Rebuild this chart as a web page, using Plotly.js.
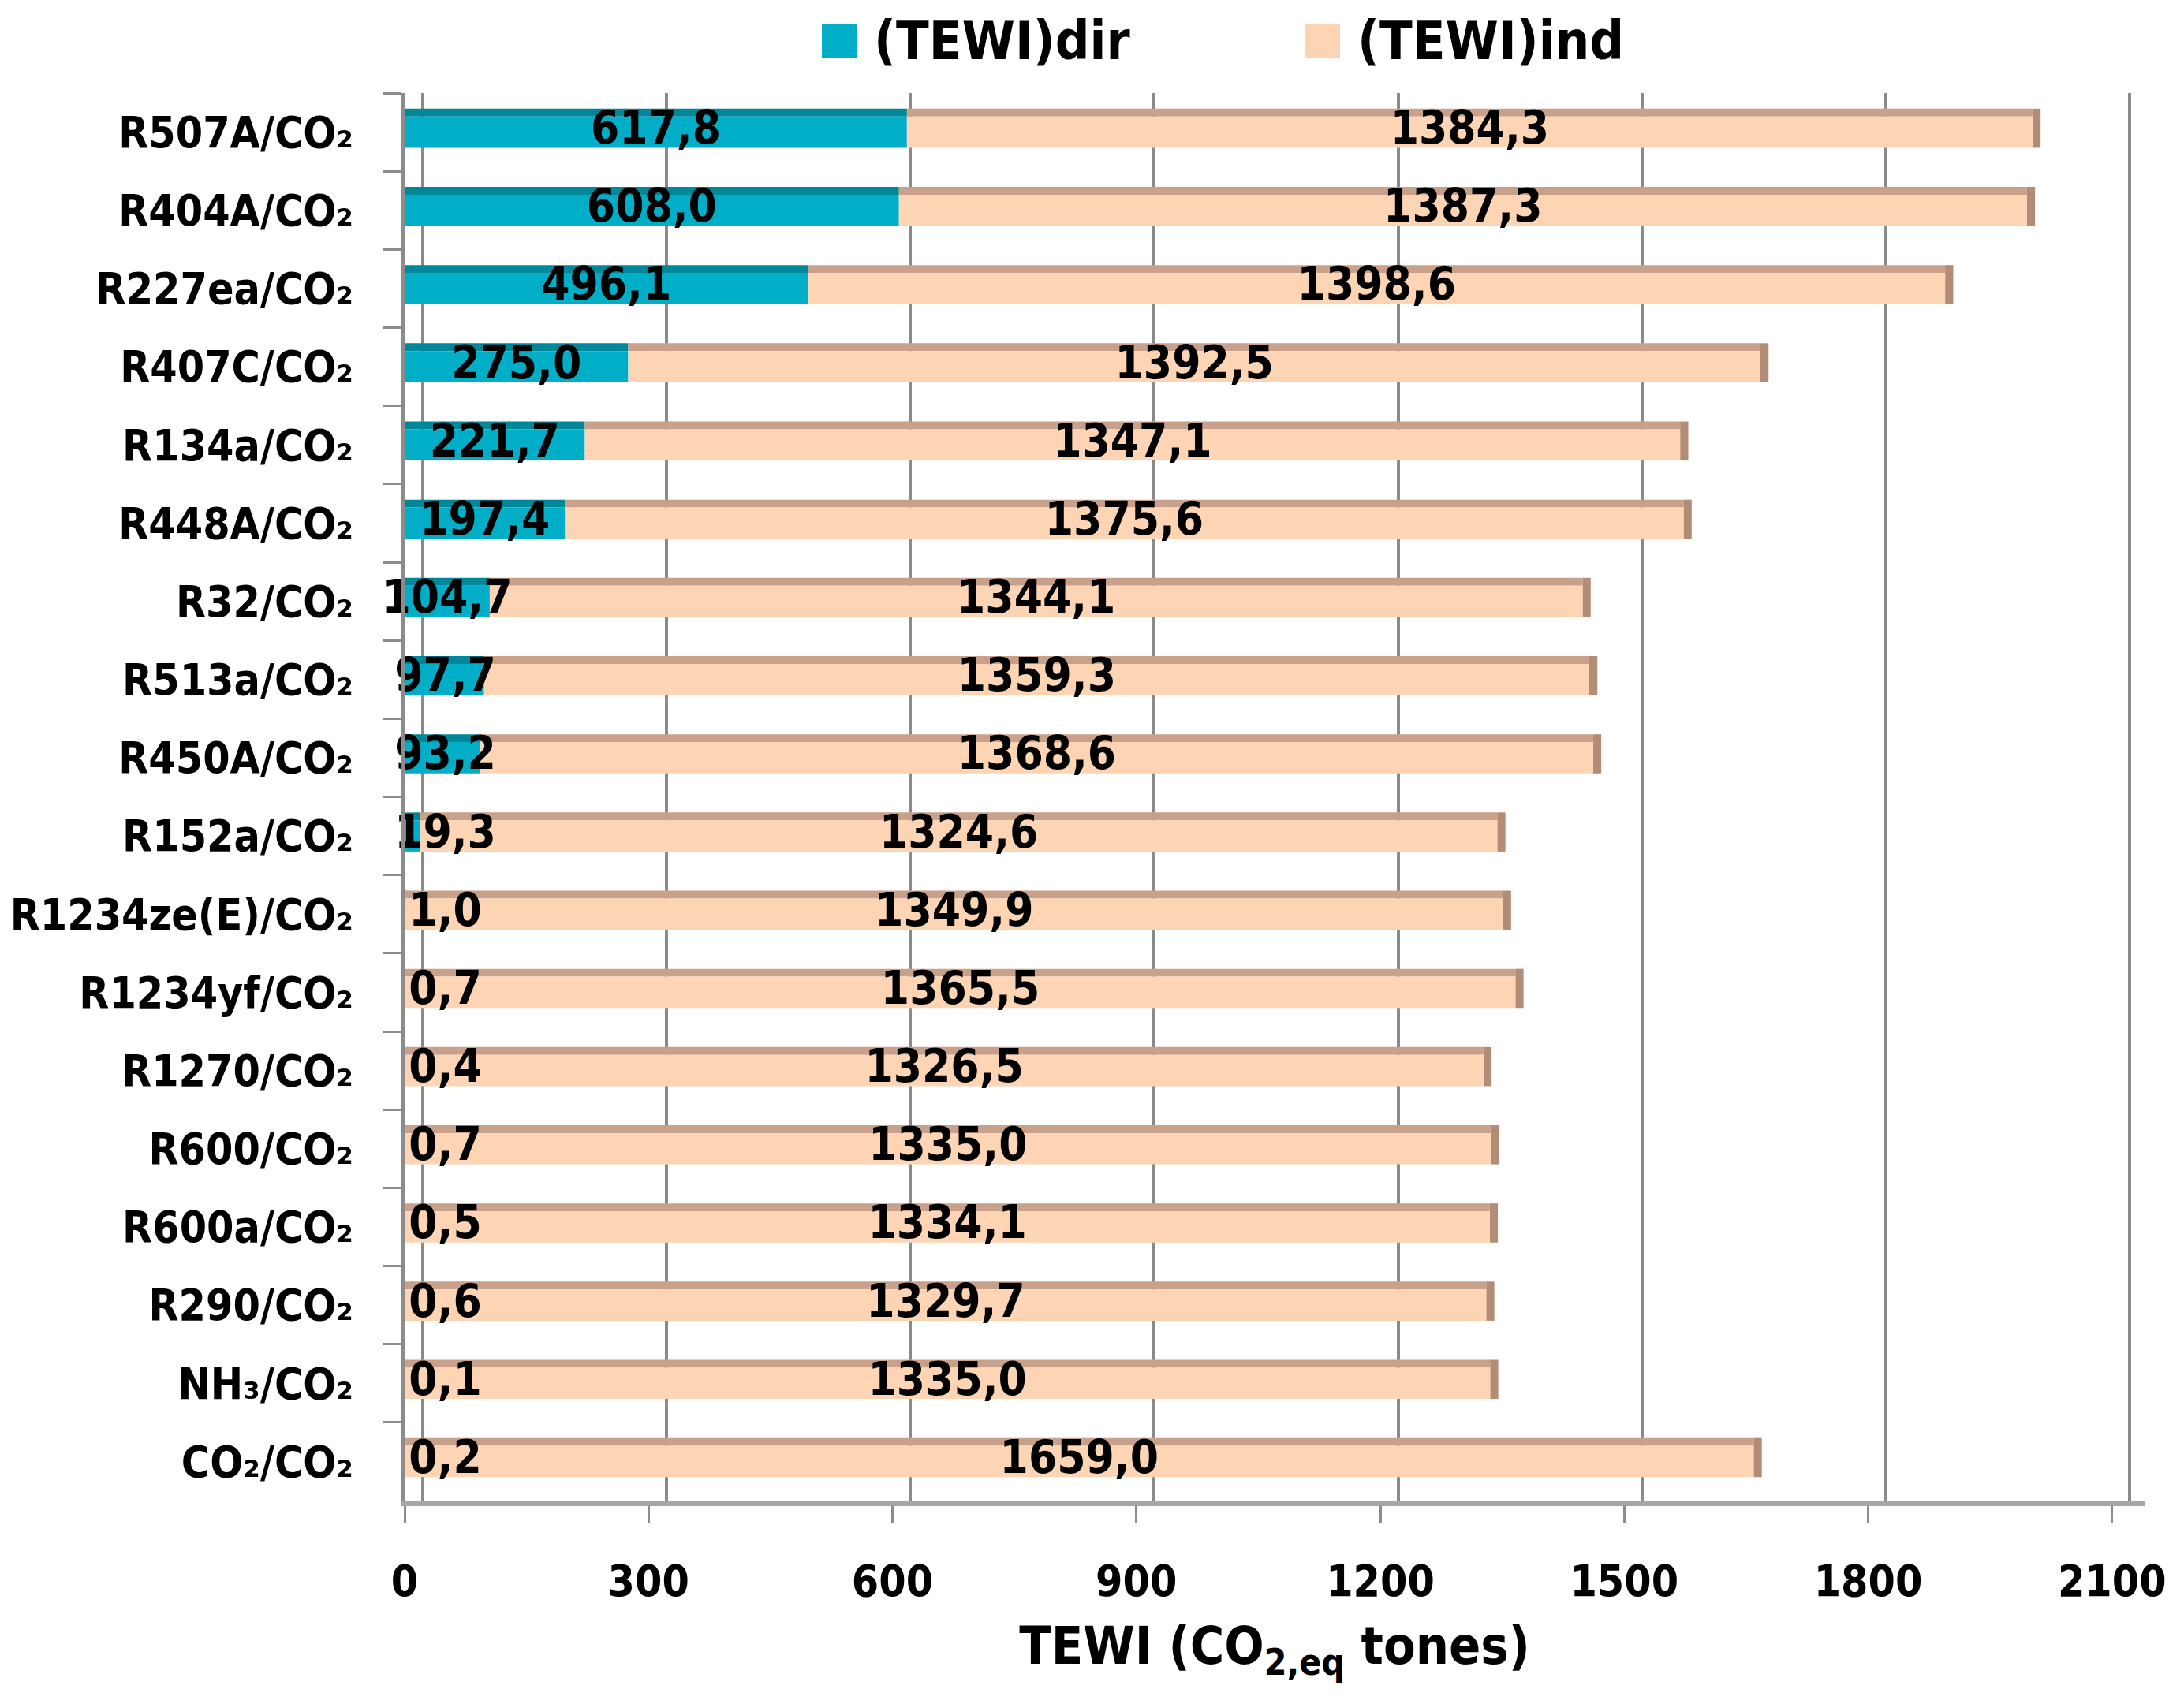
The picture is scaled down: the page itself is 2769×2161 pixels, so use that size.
<!DOCTYPE html>
<html>
<head>
<meta charset="utf-8">
<script src="https://cdn.plot.ly/plotly-3.0.1.min.js"></script>
<style>html,body{margin:0;padding:0;background:#fff;}</style>
</head>
<body>
<div id="chart" style="width:2769px;height:2161px;"></div>
<script>
// ---- data ----
var categories = [
  'R507A/CO₂', 'R404A/CO₂', 'R227ea/CO₂', 'R407C/CO₂',
  'R134a/CO₂', 'R448A/CO₂', 'R32/CO₂', 'R513a/CO₂',
  'R450A/CO₂', 'R152a/CO₂', 'R1234ze(E)/CO₂', 'R1234yf/CO₂',
  'R1270/CO₂', 'R600/CO₂', 'R600a/CO₂', 'R290/CO₂',
  'NH₃/CO₂', 'CO₂/CO₂'
];
var tewiDir = [617.8, 608.0, 496.1, 275.0, 221.7, 197.4, 104.7, 97.7, 93.2, 19.3, 1.0, 0.7, 0.4, 0.7, 0.5, 0.6, 0.1, 0.2];
var tewiInd = [1384.3, 1387.3, 1398.6, 1392.5, 1347.1, 1375.6, 1344.1, 1359.3, 1368.6, 1324.6, 1349.9, 1365.5, 1326.5, 1335.0, 1334.1, 1329.7, 1335.0, 1659.0];
var seriesNames = ['(TEWI)dir', '(TEWI)ind'];
var xTickVals = [0, 300, 600, 900, 1200, 1500, 1800, 2100];
var xTitle = 'TEWI (CO<span style="font-size:46px;baseline-shift:-14px">2,eq</span> tones)';

// ---- styles ----
var FONT = "'DejaVu Sans Condensed', 'DejaVu Sans', sans-serif";
var C_DIR = '#00AEC7', C_DIR_TOP = '#00879A';
var C_IND = '#FDD5B4', C_IND_TOP = '#C9A08A', C_IND_END = '#B38C75';
var END_DEPTH = 10;      // depth of the bar end face (style)
var MIN_LABEL_X = 50;    // keep tiny-bar labels readable
var seriesColors = [C_DIR, C_IND];
function fmt(v) { return v.toFixed(1).replace('.', ','); }

// plot-area geometry in pixels (used only to place the legend in paper units)
var W = 2769, H = 2161, ML = 513, MR = 50, MT = 118, MB = 258;
var PW = W - ML - MR, PH = H - MT - MB;
function px(x) { return (x - ML) / PW; }
function py(y) { return (H - MB - y) / PH; }

var totals = tewiDir.map(function (d, i) { return d + tewiInd[i]; });
var zeros = tewiDir.map(function () { return 0; });

var traces = [
  // top faces (3D look)
  { type: 'bar', orientation: 'h', y: categories, x: tewiDir, base: zeros,
    width: 0.1, offset: -0.3, marker: { color: C_DIR_TOP }, showlegend: false, hoverinfo: 'skip' },
  { type: 'bar', orientation: 'h', y: categories, x: tewiInd, base: tewiDir,
    width: 0.1, offset: -0.3, marker: { color: C_IND_TOP }, showlegend: false, hoverinfo: 'skip' },
  // end face of the stacked bar
  { type: 'bar', orientation: 'h', y: categories, x: categories.map(function () { return END_DEPTH; }), base: totals,
    width: 0.5, offset: -0.3, marker: { color: C_IND_END }, showlegend: false, hoverinfo: 'skip' },
  // front faces
  { type: 'bar', orientation: 'h', name: seriesNames[0], y: categories, x: tewiDir, base: zeros,
    width: 0.4, offset: -0.2, marker: { color: C_DIR }, showlegend: false },
  { type: 'bar', orientation: 'h', name: seriesNames[1], y: categories, x: tewiInd, base: tewiDir,
    width: 0.4, offset: -0.2, marker: { color: C_IND }, showlegend: false },
  // data labels
  { type: 'scatter', mode: 'text', y: categories,
    x: tewiDir.map(function (d) { return Math.max(d / 2, MIN_LABEL_X); }),
    text: tewiDir.map(fmt), textposition: 'middle center', cliponaxis: false,
    textfont: { family: FONT, size: 58, color: '#000', weight: 700 }, showlegend: false, hoverinfo: 'skip' },
  { type: 'scatter', mode: 'text', y: categories,
    x: tewiInd.map(function (v, i) { return tewiDir[i] + v / 2; }),
    text: tewiInd.map(fmt), textposition: 'middle center', cliponaxis: false,
    textfont: { family: FONT, size: 58, color: '#000', weight: 700 }, showlegend: false, hoverinfo: 'skip' },
  // carrier for back-wall grid axis
  { type: 'scatter', mode: 'markers', x: [null], y: [categories[0]], xaxis: 'x2', showlegend: false, hoverinfo: 'skip' }
];

// legend (drawn as shapes + annotations so the swatches match the reference size)
var legendSwatchX = [1042, 1655];
var shapes = [], annotations = [];
seriesNames.forEach(function (name, i) {
  var x0 = legendSwatchX[i];
  shapes.push({ type: 'rect', xref: 'paper', yref: 'paper',
    x0: px(x0), x1: px(x0 + 44), y0: py(74), y1: py(30),
    fillcolor: seriesColors[i], line: { width: 0 } });
  annotations.push({ xref: 'paper', yref: 'paper', x: px(x0 + 64), y: py(52),
    xanchor: 'left', yanchor: 'middle', showarrow: false, text: name,
    font: { family: FONT, size: 68, color: '#000', weight: 700 } });
});

var layout = {
  width: W, height: H,
  margin: { l: ML, r: MR, t: MT, b: MB },
  paper_bgcolor: '#fff', plot_bgcolor: 'rgba(0,0,0,0)',
  barmode: 'overlay',
  font: { family: FONT, color: '#000', weight: 700 },
  showlegend: false,
  shapes: shapes,
  annotations: annotations,
  xaxis: {
    range: [0, 2140], tickvals: xTickVals, ticktext: xTickVals.map(String),
    showgrid: false, zeroline: false,
    showline: true, linecolor: '#A6A6A6', linewidth: 7,
    ticks: 'outside', ticklen: 22, tickwidth: 3, tickcolor: '#8C8C8C',
    ticklabelstandoff: 26,
    tickfont: { family: FONT, size: 55, color: '#000', weight: 700 },
    title: { text: xTitle, standoff: 30,
      font: { family: FONT, size: 66, color: '#000', weight: 700 } }
  },
  xaxis2: {
    overlaying: 'x', anchor: 'y', side: 'bottom',
    range: [-22, 2118], tickvals: xTickVals,
    showgrid: true, gridcolor: '#8A8A8A', gridwidth: 4,
    showticklabels: false, ticks: '', showline: false, zeroline: false
  },
  yaxis: {
    type: 'category', range: [17.5, -0.5],
    showgrid: false, zeroline: false,
    showline: true, linecolor: '#8C8C8C', linewidth: 4,
    ticks: 'outside', tickson: 'boundaries', ticklen: 24, tickwidth: 3, tickcolor: '#8C8C8C',
    ticklabelstandoff: 50,
    tickfont: { family: FONT, size: 55, color: '#000', weight: 700 }
  }
};

Plotly.newPlot('chart', traces, layout, { displayModeBar: false });
</script>
</body>
</html>
